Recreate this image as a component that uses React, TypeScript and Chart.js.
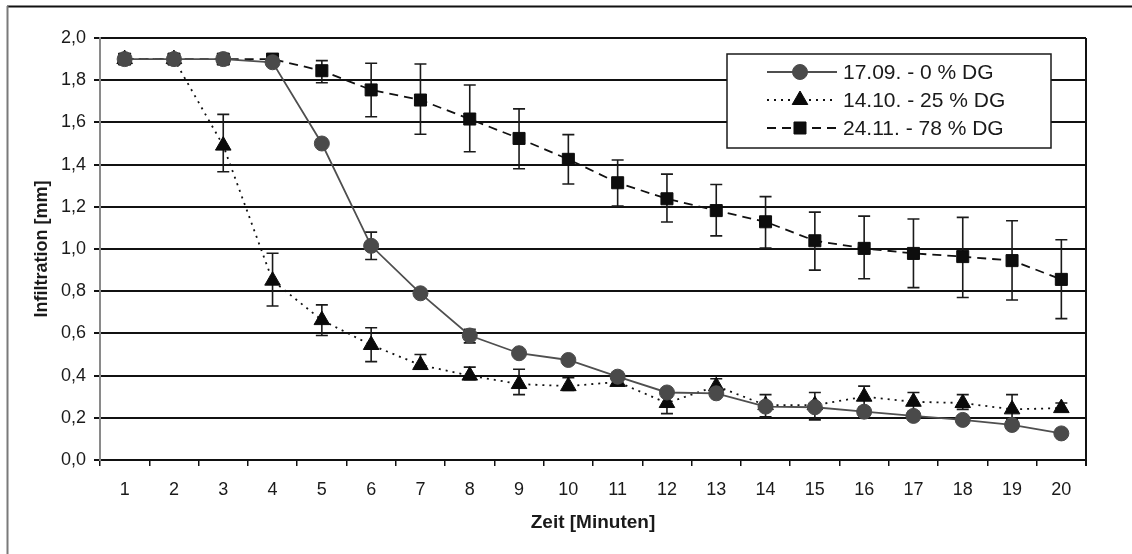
import React, { useEffect, useRef } from "react";
import { Chart, registerables } from "chart.js";

Chart.register(...registerables);

const categories = ["1", "2", "3", "4", "5", "6", "7", "8", "9", "10", "11", "12", "13", "14", "15", "16", "17", "18", "19", "20"];

const s1Label = "17.09. - 0 % DG";
const s1Values = [1.9, 1.9, 1.9, 1.885, 1.5, 1.015, 0.79, 0.59, 0.506, 0.474, 0.395, 0.32, 0.316, 0.253, 0.25, 0.229, 0.209, 0.19, 0.166, 0.126];
const s1Upper = [null, null, null, null, null, 1.08, null, 0.62, null, null, null, null, null, null, null, null, null, null, null, null];
const s1Lower = [null, null, null, null, null, 0.95, null, 0.555, null, null, null, null, null, null, null, null, null, null, null, null];

const s2Label = "14.10. - 25 % DG";
const s2Values = [1.9, 1.9, 1.49, 0.85, 0.663, 0.545, 0.45, 0.4, 0.36, 0.35, 0.37, 0.27, 0.35, 0.26, 0.26, 0.3, 0.276, 0.27, 0.24, 0.246];
const s2Upper = [null, null, 1.638, 0.98, 0.735, 0.627, 0.5, 0.44, 0.43, 0.39, null, 0.3, 0.385, 0.31, 0.32, 0.35, 0.32, 0.31, 0.31, 0.27];
const s2Lower = [null, null, 1.366, 0.73, 0.59, 0.466, 0.43, 0.38, 0.31, 0.33, null, 0.22, 0.32, 0.205, 0.19, 0.25, 0.23, 0.24, 0.19, 0.23];

const s3Label = "24.11. - 78 % DG";
const s3Values = [1.9, 1.9, 1.9, 1.9, 1.845, 1.754, 1.706, 1.616, 1.524, 1.425, 1.314, 1.238, 1.182, 1.129, 1.039, 1.003, 0.979, 0.964, 0.945, 0.856];
const s3Upper = [null, null, null, null, 1.893, 1.88, 1.877, 1.777, 1.664, 1.542, 1.422, 1.355, 1.306, 1.248, 1.175, 1.156, 1.142, 1.15, 1.134, 1.044];
const s3Lower = [null, null, null, null, 1.788, 1.627, 1.544, 1.461, 1.38, 1.308, 1.204, 1.128, 1.062, 1.005, 0.9, 0.859, 0.817, 0.77, 0.758, 0.67];

const yTitle = "Infiltration [mm]";
const xTitle = "Zeit [Minuten]";

const FONT = "'Liberation Sans', Arial, sans-serif";

function drawMarker(ctx: CanvasRenderingContext2D, style: string, x: number, y: number, r: number, color: string) {
  ctx.save();
  ctx.fillStyle = color;
  ctx.strokeStyle = color;
  ctx.lineWidth = 1;
  ctx.setLineDash([]);
  ctx.beginPath();
  if (style === "circle") {
    ctx.arc(x, y, r, 0, Math.PI * 2);
  } else if (style === "triangle") {
    const a = -Math.PI / 2;
    ctx.moveTo(x + Math.cos(a) * r, y + Math.sin(a) * r);
    ctx.lineTo(x + Math.cos(a + (2 * Math.PI) / 3) * r, y + Math.sin(a + (2 * Math.PI) / 3) * r);
    ctx.lineTo(x + Math.cos(a + (4 * Math.PI) / 3) * r, y + Math.sin(a + (4 * Math.PI) / 3) * r);
    ctx.closePath();
  } else {
    const s = Math.SQRT1_2 * r;
    ctx.rect(x - s, y - s, 2 * s, 2 * s);
  }
  ctx.fill();
  ctx.stroke();
  ctx.restore();
}

const framePlugin = {
  id: "frame",
  beforeDraw(chart: any) {
    const ctx = chart.ctx;
    ctx.save();
    ctx.strokeStyle = "#111";
    ctx.lineWidth = 2;
    ctx.beginPath();
    ctx.moveTo(7, 6.5);
    ctx.lineTo(1132, 6.5);
    ctx.stroke();
    ctx.strokeStyle = "#7a7a7a";
    ctx.beginPath();
    ctx.moveTo(7.5, 6);
    ctx.lineTo(7.5, 554);
    ctx.stroke();
    ctx.restore();
  },
  afterDraw(chart: any) {
    const ctx = chart.ctx;
    const a = chart.chartArea;
    ctx.save();
    ctx.strokeStyle = "#111";
    ctx.lineWidth = 2;
    ctx.beginPath();
    ctx.moveTo(a.right, a.top);
    ctx.lineTo(a.right, a.bottom + 6);
    ctx.stroke();
    ctx.restore();
  },
};

const errorBarPlugin = {
  id: "errorBars",
  beforeDatasetsDraw(chart: any) {
    const ctx = chart.ctx;
    const yScale = chart.scales.y;
    ctx.save();
    ctx.strokeStyle = "#1a1a1a";
    ctx.lineWidth = 1.6;
    chart.data.datasets.forEach((ds: any, i: number) => {
      const meta = chart.getDatasetMeta(i);
      const up = ds.errUpper as (number | null)[];
      const lo = ds.errLower as (number | null)[];
      meta.data.forEach((pt: any, j: number) => {
        const u = up[j];
        const l = lo[j];
        if (u == null || l == null) return;
        const x = pt.x;
        const yu = yScale.getPixelForValue(u);
        const yl = yScale.getPixelForValue(l);
        ctx.beginPath();
        ctx.moveTo(x, yu);
        ctx.lineTo(x, yl);
        ctx.moveTo(x - 6, yu);
        ctx.lineTo(x + 6, yu);
        ctx.moveTo(x - 6, yl);
        ctx.lineTo(x + 6, yl);
        ctx.stroke();
      });
    });
    ctx.restore();
  },
};

const legendPlugin = {
  id: "boxLegend",
  afterDraw(chart: any) {
    const ctx = chart.ctx;
    const bx = 727;
    const by = 54;
    const bw = 324;
    const bh = 94;
    ctx.save();
    ctx.fillStyle = "#fff";
    ctx.fillRect(bx, by, bw, bh);
    ctx.strokeStyle = "#1a1a1a";
    ctx.lineWidth = 1.5;
    ctx.strokeRect(bx, by, bw, bh);
    const rows = [72, 100, 128];
    chart.data.datasets.forEach((ds: any, i: number) => {
      const y = rows[i];
      ctx.save();
      ctx.strokeStyle = ds.borderColor;
      ctx.lineWidth = ds.borderWidth;
      ctx.setLineDash(ds.borderDash || []);
      ctx.beginPath();
      ctx.moveTo(767, y);
      ctx.lineTo(837, y);
      ctx.stroke();
      ctx.restore();
      drawMarker(ctx, ds.pointStyle, 800, y, ds.pointRadius, ds.pointBackgroundColor);
      ctx.fillStyle = "#1a1a1a";
      ctx.font = `21px ${FONT}`;
      ctx.textBaseline = "middle";
      ctx.textAlign = "left";
      ctx.fillText(ds.label, 843, y + 1);
    });
    ctx.restore();
  },
};

export default function App() {
  const ref = useRef<HTMLCanvasElement | null>(null);

  useEffect(() => {
    document.body.style.margin = "0";
    const canvas = ref.current;
    if (!canvas) return;
    const chart = new Chart(canvas, {
      type: "line",
      data: {
        labels: categories,
        datasets: [
          {
            label: s1Label,
            data: s1Values,
            errUpper: s1Upper,
            errLower: s1Lower,
            borderColor: "#4f4f4f",
            borderWidth: 1.8,
            pointStyle: "circle",
            pointRadius: 7.5,
            pointBackgroundColor: "#4a4a4a",
            pointBorderColor: "#4a4a4a",
            pointBorderWidth: 1,
            tension: 0,
          } as any,
          {
            label: s2Label,
            data: s2Values,
            errUpper: s2Upper,
            errLower: s2Lower,
            borderColor: "#111",
            borderWidth: 1.8,
            borderDash: [2, 5],
            pointStyle: "triangle",
            pointRadius: 9,
            pointBackgroundColor: "#0a0a0a",
            pointBorderColor: "#0a0a0a",
            pointBorderWidth: 1,
            tension: 0,
          } as any,
          {
            label: s3Label,
            data: s3Values,
            errUpper: s3Upper,
            errLower: s3Lower,
            borderColor: "#111",
            borderWidth: 1.8,
            borderDash: [9, 6],
            pointStyle: "rect",
            pointRadius: 8.5,
            pointBackgroundColor: "#0d0d0d",
            pointBorderColor: "#0d0d0d",
            pointBorderWidth: 1,
            tension: 0,
          } as any,
        ],
      },
      options: {
        responsive: false,
        animation: false,
        devicePixelRatio: 1,
        layout: { padding: { top: 38, right: 46, left: 0, bottom: 0 } },
        plugins: {
          legend: { display: false },
          tooltip: { enabled: false },
        },
        scales: {
          x: {
            type: "category",
            offset: true,
            grid: {
              offset: true,
              drawOnChartArea: false,
              drawTicks: true,
              tickLength: 6,
              tickColor: "#111",
              lineWidth: 1.5,
            },
            border: { display: true, color: "#111", width: 2 },
            ticks: {
              autoSkip: false,
              maxRotation: 0,
              padding: 13,
              color: "#1a1a1a",
              font: { family: FONT, size: 18 },
            },
            title: {
              display: true,
              text: xTitle,
              color: "#1a1a1a",
              font: { family: FONT, size: 19, weight: "bold" },
              padding: { top: 0, bottom: 20 },
            },
            afterFit(scale: any) {
              scale.height = 94;
            },
          },
          y: {
            min: 0,
            max: 2,
            grid: {
              color: "#111",
              lineWidth: 2,
              tickLength: 6,
              tickColor: "#111",
            },
            border: { display: true, color: "#8a8a8a", width: 2 },
            ticks: {
              stepSize: 0.2,
              padding: 8,
              color: "#1a1a1a",
              font: { family: FONT, size: 18 },
              callback: (v: any) => Number(v).toFixed(1).replace(".", ","),
            },
            title: {
              display: true,
              text: yTitle,
              color: "#1a1a1a",
              font: { family: FONT, size: 18, weight: "bold" },
              padding: { top: 31, bottom: 0 },
            },
            afterFit(scale: any) {
              scale.width = 100;
            },
          },
        },
      } as any,
      plugins: [framePlugin, errorBarPlugin, legendPlugin],
    });
    return () => chart.destroy();
  }, []);

  return (
    <div style={{ position: "fixed", left: 0, top: 0, width: 1132, height: 554, background: "#fff" }}>
      <canvas ref={ref} width={1132} height={554} style={{ display: "block", width: 1132, height: 554 }} />
    </div>
  );
}
